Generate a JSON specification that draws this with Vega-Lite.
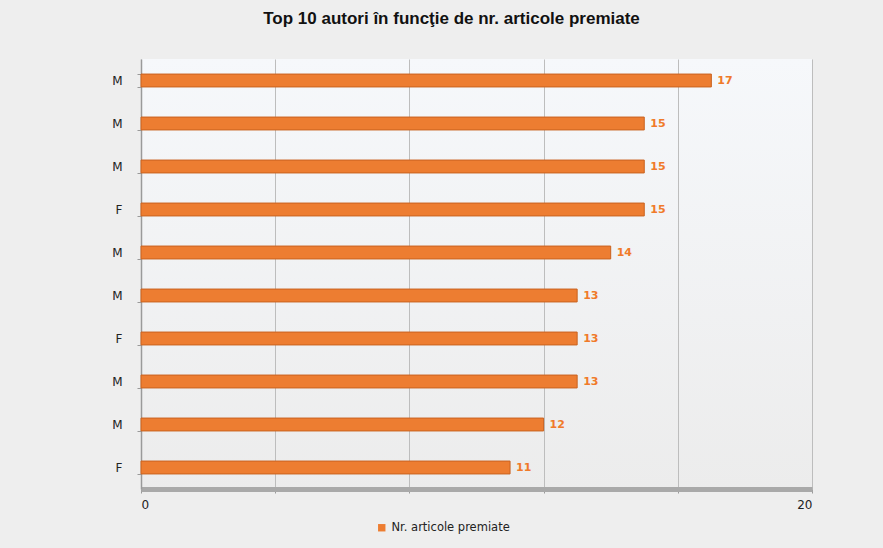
{
  "$schema": "https://vega.github.io/schema/vega-lite/v6.json",
  "width": 671,
  "height": 430,
  "autosize": {"type": "none"},
  "padding": {"left": 141, "top": 59, "right": 71, "bottom": 59},
  "background": "#eeeeee",
  "title": {
    "text": "Top 10 autori în funcţie de nr. articole premiate",
    "font": "Liberation Sans",
    "fontSize": 17,
    "fontWeight": "bold",
    "color": "#111111",
    "anchor": "middle",
    "dx": -25,
    "offset": 25
  },
  "data": {
    "values": [
      {"autor": "M1", "serie": "Nr. articole premiate", "articole": 17},
      {"autor": "M2", "serie": "Nr. articole premiate", "articole": 15},
      {"autor": "M3", "serie": "Nr. articole premiate", "articole": 15},
      {"autor": "F4", "serie": "Nr. articole premiate", "articole": 15},
      {"autor": "M5", "serie": "Nr. articole premiate", "articole": 14},
      {"autor": "M6", "serie": "Nr. articole premiate", "articole": 13},
      {"autor": "F7", "serie": "Nr. articole premiate", "articole": 13},
      {"autor": "M8", "serie": "Nr. articole premiate", "articole": 13},
      {"autor": "M9", "serie": "Nr. articole premiate", "articole": 12},
      {"autor": "F10", "serie": "Nr. articole premiate", "articole": 11}
    ]
  },
  "encoding": {
    "y": {
      "field": "autor",
      "type": "nominal",
      "sort": null,
      "scale": {"paddingInner": 0.7, "paddingOuter": 0.35},
      "axis": {
        "title": null,
        "labelExpr": "slice(datum.label, 0, 1)",
        "labelFont": "DejaVu Sans",
        "labelFontSize": 12,
        "labelColor": "#222222",
        "labelPadding": 15,
        "tickBand": "extent",
        "tickColor": "#9a9a9a",
        "tickSize": 4,
        "domainColor": "#9a9a9a",
        "domainWidth": 1.5
      }
    },
    "x": {
      "field": "articole",
      "type": "quantitative",
      "scale": {"domain": [0, 20], "nice": false},
      "axis": {
        "title": null,
        "values": [0, 4, 8, 12, 16, 20],
        "labelExpr": "datum.value == 0 || datum.value == 20 ? datum.label : ''",
        "labelFont": "DejaVu Sans",
        "labelFontSize": 12,
        "labelColor": "#222222",
        "labelPadding": 6,
        "grid": true,
        "gridColor": "#bdbdbd",
        "gridWidth": 1,
        "tickColor": "#9a9a9a",
        "tickSize": 4,
        "domainColor": "#a9a9a9",
        "domainWidth": 5
      }
    }
  },
  "layer": [
    {
      "mark": {"type": "bar", "stroke": "#c9621f", "strokeWidth": 1},
      "encoding": {
        "color": {
          "field": "serie",
          "type": "nominal",
          "scale": {"range": ["#ed7d31"]},
          "legend": {
            "title": null,
            "orient": "none",
            "legendX": 235,
            "legendY": 463,
            "symbolType": "square",
            "symbolSize": 55,
            "symbolStrokeWidth": 0,
            "labelOffset": 4,
            "labelFont": "DejaVu Sans",
            "labelFontSize": 11.5,
            "labelColor": "#222222"
          }
        }
      }
    },
    {
      "mark": {
        "type": "text",
        "align": "left",
        "baseline": "middle",
        "dx": 6,
        "font": "DejaVu Sans",
        "fontSize": 11,
        "fontWeight": "bold",
        "color": "#f07a2a"
      },
      "encoding": {"text": {"field": "articole", "type": "quantitative"}}
    }
  ],
  "config": {
    "view": {
      "stroke": null,
      "fill": {
        "gradient": "linear",
        "x1": 0, "y1": 0, "x2": 0, "y2": 1,
        "stops": [
          {"offset": 0, "color": "#f6f8fb"},
          {"offset": 1, "color": "#ececec"}
        ]
      }
    }
  }
}
